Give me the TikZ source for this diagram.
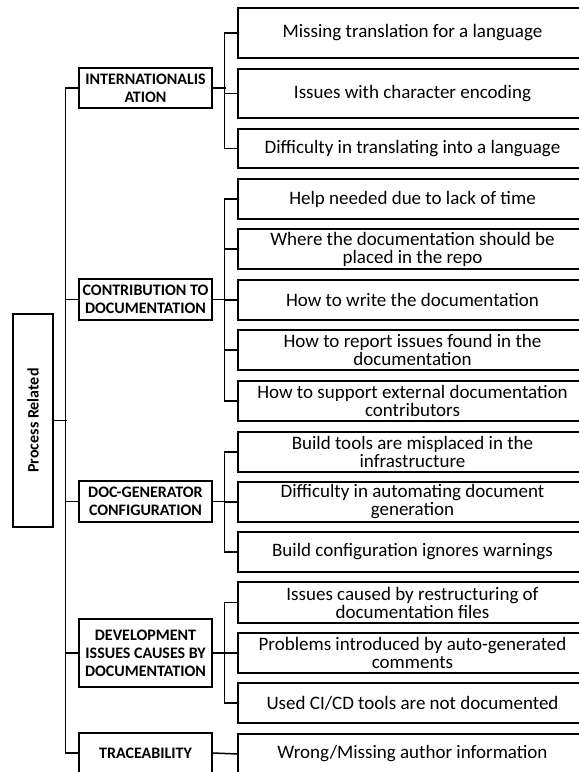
\documentclass[tikz,border=0pt]{standalone}
\usepackage{fontspec}
\setmainfont{Carlito}
\begin{document}
\begin{tikzpicture}[x=1pt,y=1pt,
  box/.style={draw, line width=1.5pt, inner sep=0pt, align=center},
  rootbox/.style={box, font=\fontsize{16}{18}\selectfont\bfseries, rotate=90,
    minimum width=213pt, minimum height=40pt},
  catbox/.style={box, font=\fontsize{16}{18}\selectfont\bfseries, minimum width=133pt},
  itembox/.style={box, font=\fontsize{19}{18}\selectfont, minimum width=349pt},
  link/.style={line width=1.5pt}]
\useasboundingbox (0,0) rectangle (579,772);
\clip (0,0) rectangle (579,772);

% root
\node[rootbox] (root) at (33,351.5) {Process Related};

% categories
\node[catbox, minimum height=40pt] (intl)    at (145.5,684)   {INTERNATIONALIS\\ATION};
\node[catbox, minimum height=41pt] (contrib) at (145.5,472.5) {CONTRIBUTION TO\\DOCUMENTATION};
\node[catbox, minimum height=41pt] (docgen)  at (145.5,270.5) {DOC-GENERATOR\\CONFIGURATION};
\node[catbox, minimum height=68pt] (dev)     at (145.5,119)   {DEVELOPMENT\\ISSUES CAUSES BY\\DOCUMENTATION};
\node[catbox, minimum height=40pt] (trace)   at (145.5,19)    {TRACEABILITY};

% items
\node[itembox, minimum height=50pt] (i1)  at (412.5,739)   {Missing translation for a language};
\node[itembox, minimum height=49pt] (i2)  at (412.5,678.5) {Issues with character encoding};
\node[itembox, minimum height=39pt] (i3)  at (412.5,623.5) {Difficulty in translating into a language};

\node[itembox, minimum height=40pt] (i4)  at (412.5,573) {Help needed due to lack of time};
\node[itembox, minimum height=40pt] (i5)  at (412.5,523) {Where the documentation should be\\placed in the repo};
\node[itembox, minimum height=40pt] (i6)  at (412.5,472) {How to write the documentation};
\node[itembox, minimum height=40pt] (i7)  at (412.5,422) {How to report issues found in the\\documentation};
\node[itembox, minimum height=40pt] (i8)  at (412.5,371) {How to support external documentation\\contributors};

\node[itembox, minimum height=40pt] (i9)  at (412.5,320) {Build tools are misplaced in the\\infrastructure};
\node[itembox, minimum height=40pt] (i10) at (412.5,270) {Difficulty in automating document\\generation};
\node[itembox, minimum height=40pt] (i11) at (412.5,220) {Build configuration ignores warnings};

\node[itembox, minimum height=41pt] (i12) at (412.5,169.5) {Issues caused by restructuring of\\documentation files};
\node[itembox, minimum height=40pt] (i13) at (412.5,119)   {Problems introduced by auto-generated\\comments};
\node[itembox, minimum height=40pt] (i14) at (412.5,69)    {Used CI/CD tools are not documented};

\node[itembox, minimum height=40pt] (i15) at (412.5,18) {Wrong/Missing author information};

% trunk from root to categories
\draw[link] (root.south) -- ++(13,0);
\draw[link] (intl.west) -- ++(-13,0) |- (trace.west);
\draw[link] (contrib.west) -- ++(-13,0);
\draw[link] (docgen.west) -- ++(-13,0);
\draw[link] (dev.west) -- ++(-13,0);

% category branches
\draw[link] (intl.east) -- ++(13,0);
\draw[link] (i1.west) -- ++(-13,0) |- (i3.west);
\draw[link] (i2.west) -- ++(-13,0);

\draw[link] (contrib.east) -- ++(13,0);
\draw[link] (i4.west) -- ++(-13,0) |- (i8.west);
\draw[link] (i5.west) -- ++(-13,0);
\draw[link] (i6.west) -- ++(-13,0);
\draw[link] (i7.west) -- ++(-13,0);

\draw[link] (docgen.east) -- ++(13,0);
\draw[link] (i9.west) -- ++(-13,0) |- (i11.west);
\draw[link] (i10.west) -- ++(-13,0);

\draw[link] (dev.east) -- ++(13,0);
\draw[link] (i12.west) -- ++(-13,0) |- (i14.west);
\draw[link] (i13.west) -- ++(-13,0);

\draw[link] (trace.east) -- (i15.west);
\end{tikzpicture}
\end{document}
